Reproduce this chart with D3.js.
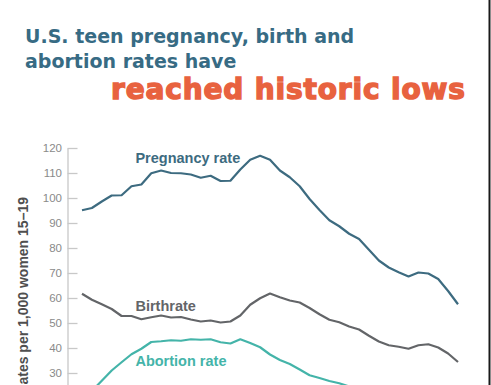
<!DOCTYPE html>
<html>
<head>
<meta charset="utf-8">
<script src="https://cdn.jsdelivr.net/npm/d3@7"></script>
<style>
  html, body { margin: 0; padding: 0; background: #fff; overflow: hidden; }
</style>
</head>
<body>
<svg id="chart"></svg>
<script>
var width = 491,
    height = 385;

// data (rates per 1,000 women 15-19)
var years = d3.range(1972, 2011);
var pregnancy = [95.1, 96.0, 98.6, 101.0, 101.1, 104.7, 105.4, 109.9, 111.0, 110.0,
                 109.9, 109.4, 108.1, 108.9, 106.8, 106.9, 111.4, 115.3, 116.9, 115.3,
                 111.0, 108.3, 104.7, 99.6, 95.2, 91.1, 88.7, 85.7, 83.6, 79.3,
                 75.0, 72.2, 70.3, 68.6, 70.2, 69.8, 67.6, 62.8, 57.5];
var birth = [61.7, 59.3, 57.5, 55.6, 52.8, 52.8, 51.5, 52.3, 53.0, 52.2,
             52.4, 51.4, 50.6, 51.0, 50.2, 50.6, 53.0, 57.3, 59.9, 61.8,
             60.3, 59.0, 58.2, 56.0, 53.5, 51.3, 50.3, 48.6, 47.4, 44.9,
             42.6, 41.1, 40.5, 39.7, 41.1, 41.5, 40.2, 37.8, 34.4];
var abortion = [19.1, 22.8, 26.9, 31.0, 34.3, 37.5, 39.7, 42.4, 42.7, 43.1,
                42.9, 43.5, 43.3, 43.5, 42.3, 41.8, 43.5, 42.0, 40.3, 37.4,
                35.2, 33.6, 31.4, 29.1, 28.0, 26.8, 25.9, 24.6, 24.0, 22.3,
                20.7, 19.9, 19.8, 19.3, 19.1, 19.0, 17.8, 16.3, 14.7];
// ticks below 30 fall under the bottom edge of the picture
var yTicks = [30, 40, 50, 60, 70, 80, 90, 100, 110, 120];

var series = [
  {name: "Pregnancy rate", values: pregnancy, color: "#3d6b80", labelYear: 1977.4, labelValue: 114},
  {name: "Birthrate", values: birth, color: "#636568", labelYear: 1977.4, labelValue: 55},
  {name: "Abortion rate", values: abortion, color: "#44b4a9", labelYear: 1977.4, labelValue: 32.9}
];

var svg = d3.select("#chart")
    .attr("width", width)
    .attr("height", height);

var x = d3.scaleLinear().domain([1972, 2010]).range([82, 458]);
var y = d3.scaleLinear().domain([0, 120]).range([448, 148]);

// title
var title = svg.append("g");
title.append("text")
    .attr("x", 25).attr("y", 43)
    .style("font-family", "DejaVu Sans").style("font-weight", "bold")
    .style("font-size", "19px").style("fill", "#376b84")
    .text("U.S. teen pregnancy, birth and");
title.append("text")
    .attr("x", 25).attr("y", 67.5)
    .style("font-family", "DejaVu Sans").style("font-weight", "bold")
    .style("font-size", "19px").style("fill", "#376b84")
    .text("abortion rates have");
title.append("text")
    .attr("x", 111).attr("y", 99)
    .style("font-family", "DejaVu Sans").style("font-weight", "bold")
    .style("font-size", "28px").style("letter-spacing", "0.85px")
    .style("fill", "#e8623f")
    .style("stroke", "#e8623f").style("stroke-width", 1.4)
    .text("reached historic lows");

// y axis
var yAxisGroup = svg.append("g")
    .attr("transform", "translate(67.5,0)")
    .call(d3.axisLeft(y).tickValues(yTicks).tickSizeInner(-10).tickSizeOuter(0).tickPadding(5.5));
yAxisGroup.select(".domain").attr("stroke", "#c8c8c8").attr("stroke-width", 1.3);
yAxisGroup.selectAll(".tick line").attr("stroke", "#c8c8c8").attr("stroke-width", 1.3);
yAxisGroup.selectAll(".tick text")
    .style("font-family", "Liberation Sans")
    .style("font-size", "11.5px")
    .style("fill", "#8a8a8a");

svg.append("text")
    .attr("transform", "translate(28,197) rotate(-90)")
    .style("text-anchor", "end")
    .style("font-family", "Liberation Sans").style("font-weight", "bold")
    .style("font-size", "14px").style("fill", "#4f4f4f")
    .text("Rates per 1,000 women 15–19");

// lines
var line = d3.line()
    .x(function(d, i) { return x(years[i]); })
    .y(function(d) { return y(d); });

svg.selectAll(".series")
    .data(series)
    .enter()
    .append("path")
    .attr("class", "series")
    .attr("d", function(d) { return line(d.values); })
    .attr("fill", "none")
    .attr("stroke", function(d) { return d.color; })
    .attr("stroke-width", 2.2)
    .attr("stroke-linejoin", "round");

svg.selectAll(".label")
    .data(series)
    .enter()
    .append("text")
    .attr("class", "label")
    .attr("x", function(d) { return x(d.labelYear); })
    .attr("y", function(d) { return y(d.labelValue); })
    .style("font-family", "Liberation Sans").style("font-weight", "bold")
    .style("font-size", "14.5px")
    .style("fill", function(d) { return d.color; })
    .text(function(d) { return d.name; });

// right edge rule
svg.append("line")
    .attr("x1", 489.5).attr("x2", 489.5)
    .attr("y1", 0).attr("y2", height)
    .attr("stroke", "#1a1a1a").attr("stroke-width", 2);
</script>
</body>
</html>
